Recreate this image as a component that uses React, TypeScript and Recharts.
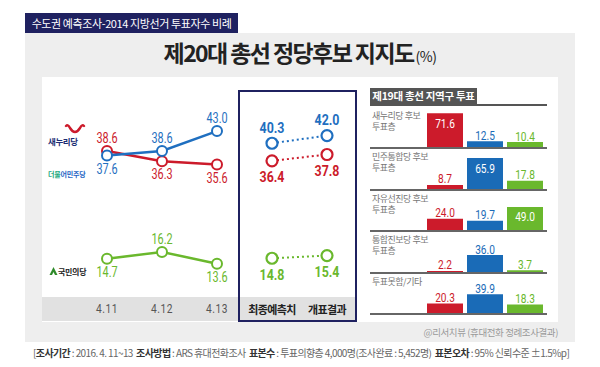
import { LineChart, Line, XAxis, YAxis, LabelList, BarChart, Bar, Cell } from 'recharts';

// 제20대 총선 정당후보 지지도 (수도권)
const pollDates = ['4.11', '4.12', '4.13', '최종예측치', '개표결과'];
const saenuriSupport = [38.6, 36.3, 35.6, 36.4, 37.8];
const minjooSupport = [37.6, 38.6, 43.0, 40.3, 42.0];
const kookminSupport = [14.7, 16.2, 13.6, 14.8, 15.4];
const dailyCount = 3; // first three are daily polls, then prediction vs result

// 제19대 총선 지역구 투표 기준
const voterGroups = ['새누리당 후보\n투표층', '민주통합당 후보\n투표층', '자유선진당 후보\n투표층', '통합진보당 후보\n투표층', '투표못함/기타'];
const saenuriShare = [71.6, 8.7, 24.0, 2.2, 20.3];
const minjooShare = [12.5, 65.9, 19.7, 36.0, 39.9];
const kookminShare = [10.4, 17.8, 49.0, 3.7, 18.3];

const RED = '#cc1b2b';
const BLUE = '#1f6fc0';
const BAR_BLUE = '#1a6bb7';
const GREEN = '#6ab82d';
const NAVY = '#1f2160';
const KR = "'Noto Sans CJK KR', 'Noto Sans', sans-serif";
const NUM = "Roboto, 'Noto Sans', sans-serif";

const split = (arr: number[], solid: boolean) =>
  arr.map((v, i) => ((i < dailyCount) === solid ? v : null));

const lineData = pollDates.map((date, i) => ({
  date,
  red: split(saenuriSupport, true)[i],
  redF: split(saenuriSupport, false)[i],
  blue: split(minjooSupport, true)[i],
  blueF: split(minjooSupport, false)[i],
  green: split(kookminSupport, true)[i],
  greenF: split(kookminSupport, false)[i],
}));

function isAbove(series: number[], other: number[] | null, i: number) {
  if (other) return series[i] > other[i];
  // lone series: label on top only at a peak inside its own segment
  const seg = (k: number) => (k < dailyCount ? 0 : 1);
  const prev = i - 1, next = i + 1;
  if (prev < 0 || next >= series.length) return false;
  if (seg(prev) !== seg(i) || seg(next) !== seg(i)) return false;
  return series[i] > series[prev] && series[i] > series[next];
}

// condensed-looking number text (squeezed horizontally)
function NarrowText({ x, y, sx, children, ...rest }: any) {
  return (
    <text
      transform={`translate(${x},${y}) scale(${sx},1)`}
      textAnchor="middle"
      dominantBaseline="central"
      fontFamily={NUM}
      {...rest}
    >
      {children}
    </text>
  );
}

function pointLabel(series: number[], other: number[] | null, color: string) {
  return (props: any) => {
    const { x, y, value, index } = props;
    if (value == null) return null;
    const final = index >= dailyCount;
    const off = final ? 16 : 13;
    const up = isAbove(series, other, index);
    return (
      <NarrowText
        x={x}
        y={up ? y - off : y + off}
        sx={final ? 0.8 : 0.75}
        fill={color}
        fontSize={final ? 15.5 : 14.5}
        fontWeight={final ? 700 : 400}
      >
        {Number(value).toFixed(1)}
      </NarrowText>
    );
  };
}

const ringDot = (color: string, r: number, sw: number) => (p: any) => {
  if (p.value == null || p.cy == null) return <g key={p.index} />;
  return <circle key={p.index} cx={p.cx} cy={p.cy} r={r} fill="#fff" stroke={color} strokeWidth={sw} />;
};

function DateTick(props: any) {
  const { x, y, payload, index } = props;
  const final = index >= dailyCount;
  if (final) {
    return (
      <text x={x} y={y - 16} textAnchor="middle" dominantBaseline="central" fill="#222" fontFamily={KR} fontSize={11} fontWeight={700} letterSpacing={-0.6}>
        {payload.value}
      </text>
    );
  }
  return (
    <NarrowText x={x} y={y - 16} sx={0.85} fill="#555" fontSize={12} letterSpacing={0.6}>
      {payload.value}
    </NarrowText>
  );
}

function BarValue(props: any) {
  const { x, y, width, value, index } = props;
  const colors = [RED, BAR_BLUE, GREEN];
  const inside = value > 45;
  return (
    <NarrowText x={x + width / 2} y={inside ? y + 10 : y - 6} sx={0.75} fill={inside ? '#fff' : colors[index]} fontSize={13.5}>
      {Number(value).toFixed(1)}
    </NarrowText>
  );
}

function GroupBars({ row }: { row: number }) {
  const data = [
    { party: '새누리당', v: saenuriShare[row] },
    { party: '더불어민주당', v: minjooShare[row] },
    { party: '국민의당', v: kookminShare[row] },
  ];
  const colors = [RED, BAR_BLUE, GREEN];
  return (
    <BarChart width={120} height={50} data={data} margin={{ top: 12.4, right: 0, bottom: 0, left: 0 }}>
      <XAxis dataKey="party" hide />
      <YAxis hide domain={[0, 80]} />
      <Bar dataKey="v" barSize={36} isAnimationActive={false}>
        {data.map((d, i) => (
          <Cell key={d.party} fill={colors[i]} />
        ))}
        <LabelList dataKey="v" content={BarValue} />
      </Bar>
    </BarChart>
  );
}

const abs = (left: number, top: number, extra: React.CSSProperties = {}): React.CSSProperties => ({
  position: 'absolute',
  left,
  top,
  ...extra,
});

const series = [
  { k: 'red', s: saenuriSupport, o: minjooSupport, c: RED },
  { k: 'blue', s: minjooSupport, o: saenuriSupport, c: BLUE },
  { k: 'green', s: kookminSupport, o: null, c: GREEN },
];

export default function App() {
  const baselines = voterGroups.map((_, i) => 147 + i * 41.5);
  return (
    <div style={{ position: 'absolute', left: 0, top: 0, width: 600, height: 367, background: '#fff', overflow: 'hidden', fontFamily: KR }}>
      {/* top tag */}
      <div style={abs(25, 13, { width: 213, height: 20, background: NAVY, color: '#fff', fontSize: 11, lineHeight: '20px', textAlign: 'center', letterSpacing: -0.4 })}>
        수도권 예측조사-2014 지방선거 투표자수 비례
      </div>
      {/* grey frame + white panel */}
      <div style={abs(25, 33, { width: 550, height: 309, background: '#eeeeee' })} />
      <div style={abs(42, 77, { width: 516, height: 245, background: '#fff' })} />
      <div style={abs(0, 35, { width: 600, textAlign: 'center', color: '#222', whiteSpace: 'nowrap' })}>
        <span style={{ fontSize: 23, fontWeight: 700, letterSpacing: -1.6 }}>제20대 총선 정당후보 지지도</span>
        <span style={{ fontSize: 14, marginLeft: 2, letterSpacing: -0.5 }}>(%)</span>
      </div>

      {/* label band under line chart */}
      <div style={abs(42, 297, { width: 315, height: 24, background: '#e1e1e1' })} />
      <div style={abs(238, 90, { width: 115, height: 228, border: `2px solid ${NAVY}` })} />

      {/* party marks */}
      <svg style={abs(64, 124)} width={22} height={14}>
        <path d="M2 2 Q4 0 6 4 Q11 12 16 4 Q18 0 20 2" stroke={RED} strokeWidth={2.4} fill="none" strokeLinecap="round" />
      </svg>
      <div style={abs(48, 135, { fontSize: 8.5, fontWeight: 700, color: '#1b2d73', letterSpacing: -0.4 })}>새누리당</div>
      <div style={abs(48, 169, { fontSize: 7, fontWeight: 700, letterSpacing: -0.2 })}>
        <span style={{ color: '#21a87c' }}>더불</span>
        <span style={{ color: '#1e63c4' }}>어민주당</span>
      </div>
      <svg style={abs(49, 267)} width={9} height={9}>
        <path d="M4.5 0 L8.5 8 L6 8 L4.5 5 L3 8 L0.5 8 Z" fill="#2f8a2a" />
      </svg>
      <div style={abs(58, 266, { fontSize: 8, fontWeight: 700, color: '#222', letterSpacing: -0.3 })}>국민의당</div>

      {/* line chart */}
      <div style={abs(42, 77)}>
        <LineChart width={315} height={270} data={lineData} margin={{ top: 22.5, right: 30, bottom: 0, left: 65 }}>
          <XAxis dataKey="date" height={22} axisLine={false} tickLine={false} tickSize={0} tickMargin={0} interval={0} tick={DateTick} />
          <YAxis hide domain={[0, 50]} />
          {series.flatMap(({ k, s, o, c }) => [
            <Line key={k} dataKey={k} stroke={c} strokeWidth={2.5} dot={ringDot(c, 5, 2)} isAnimationActive={false}>
              <LabelList dataKey={k} content={pointLabel(s, o, c)} />
            </Line>,
            <Line
              key={k + 'F'}
              dataKey={k + 'F'}
              stroke={c}
              strokeWidth={2}
              strokeDasharray="2 3"
              dot={ringDot(c, 5.5, 2.2)}
              isAnimationActive={false}
            >
              <LabelList dataKey={k + 'F'} content={pointLabel(s, o, c)} />
            </Line>,
          ])}
        </LineChart>
      </div>

      {/* right panel: 제19대 총선 */}
      <div style={abs(370, 88, { width: 107, height: 16, background: '#555', color: '#fff', fontSize: 10.5, fontWeight: 700, lineHeight: '16px', textAlign: 'center', letterSpacing: -0.3 })}>
        제19대 총선 지역구 투표
      </div>
      <div style={abs(370, 104, { width: 177, height: 1.5, background: '#555' })} />
      {voterGroups.map((g, i) => (
        <div key={g}>
          <div style={abs(372, baselines[i] - 37.5, { fontSize: 9, lineHeight: '11px', color: '#777', whiteSpace: 'pre-line', letterSpacing: -0.5 })}>{g}</div>
          <div style={abs(425, baselines[i] - 50)}>
            <GroupBars row={i} />
          </div>
          <div style={abs(370, baselines[i], { width: 177, height: 2, background: '#666' })} />
        </div>
      ))}

      <div style={abs(300, 325, { width: 258, textAlign: 'right', fontSize: 9.5, color: '#9a9a9a', letterSpacing: -0.4 })}>
        @리서치뷰 (휴대전화 정례조사결과)
      </div>
      <div style={abs(33, 345, { fontSize: 10, color: '#666', whiteSpace: 'nowrap', letterSpacing: -0.6 })}>
        [<b style={{ color: '#333' }}>조사기간</b> : 2016. 4. 11~13&nbsp;&nbsp;<b style={{ color: '#333' }}>조사방법</b> : ARS 휴대전화조사&nbsp;&nbsp;
        <b style={{ color: '#333' }}>표본수</b> : 투표의향층 4,000명(조사완료 : 5,452명)&nbsp;&nbsp;<b style={{ color: '#333' }}>표본오차</b> : 95% 신뢰수준 ±1.5%p]
      </div>
    </div>
  );
}
